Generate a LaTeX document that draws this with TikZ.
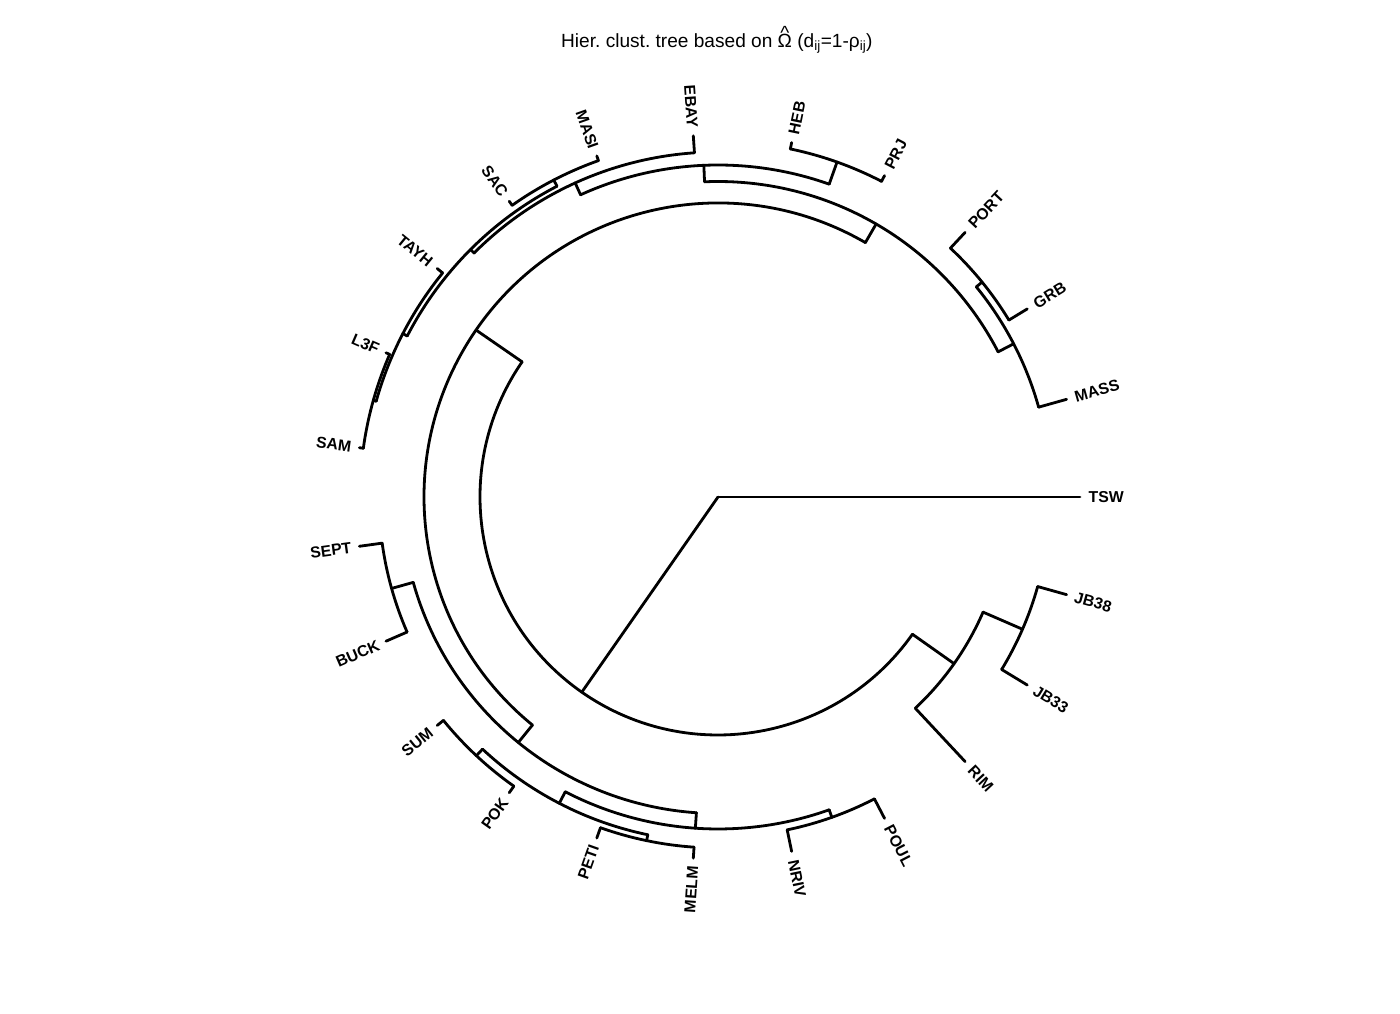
\documentclass[tikz,border=0pt]{standalone}
\usepackage{fontspec}
\setmainfont{Liberation Sans}
\frenchspacing
\begin{document}
\begin{tikzpicture}[x=1pt,y=1pt,
  br/.style={line width=2.8pt, line cap=round, line join=round},
  lab/.style={font=\fontsize{15.8}{18}\selectfont\bfseries, inner sep=0pt, text height=11.3pt, text depth=0pt}]
\useasboundingbox (0,0) rectangle (1400,1014);
\coordinate (C) at (718,517);
% title
\node[anchor=base west, inner sep=0pt, font=\fontsize{19.1}{22}\selectfont] (title) at (561,966.7)
  {Hier. clust. tree based on \ooalign{Ω\cr\hidewidth\raisebox{0.42em}{\textasciicircum}\hidewidth\cr} (d\textsubscript{ij}=1-ρ\textsubscript{ij})};
% internal nodes: name/angle/parent radius/radius/arc start/arc end
\foreach \nm/\ang/\pr/\rr/\aa/\ab in {
  N1/235.089/0/238/145.394/324.783,
  RJ/324.783/238/289/313.043/336.522,
  JB/336.522/289/332/328.696/344.348,
  N2/145.394/238/294/59.918/230.870,
  A/59.918/294/315.5/27.391/92.446,
  PGM/27.391/315.5/333/15.652/39.130,
  PG/39.130/333/340.5/31.304/46.957,
  E/92.446/315.5/332/70.435/114.457,
  HP/70.435/332/355.5/62.609/78.261,
  M/114.457/332/345/93.913/135.0,
  T/135.0/345/350/117.391/152.609,
  MS/117.391/350/357/109.565/125.217,
  LT/152.609/350/355/140.870/164.348,
  LS/164.348/355/358/156.522/172.174,
  B/230.870/294/316.5/195.652/266.087,
  SB/195.652/316.5/339/187.826/203.478,
  Q/266.087/316.5/332/242.609/289.565,
  K/242.609/332/345/226.957/258.261,
  SP/226.957/345/354/219.130/234.783,
  PM/258.261/345/351/250.435/266.087,
  NP/289.565/332/340/281.739/297.391}{
  \draw[br] ([shift={(\ang:\pr)}]C) -- ([shift={(\ang:\rr)}]C) coordinate (n\nm);
  \draw[br] ([shift={(\aa:\rr)}]C) arc[start angle=\aa, end angle=\ab, radius=\rr];
}
% tips: index/name/parent radius
\foreach \i/\nm/\pr in {
  0/TSW/0, 1/MASS/333, 2/GRB/340.5, 3/PORT/340.5, 4/PRJ/355.5, 5/HEB/355.5,
  6/EBAY/345, 7/MASI/357, 8/SAC/357, 9/TAYH/355, 10/L3F/358, 11/SAM/358,
  12/SEPT/339, 13/BUCK/339, 14/SUM/354, 15/POK/354, 16/PETI/351, 17/MELM/351,
  18/NRIV/340, 19/POUL/340, 20/RIM/289, 21/JB33/332, 22/JB38/332}{
  \pgfmathsetmacro\ang{\i*360/23}
  \draw[br] ([shift={(\ang:\pr)}]C) -- ([shift={(\ang:362)}]C) coordinate (t\nm);
  \pgfmathparse{(\ang>90 && \ang<270) ? 1 : 0}
  \ifnum\pgfmathresult=1
    \pgfmathsetmacro\rot{\ang-180}
    \node[lab, anchor=east, rotate=\rot] (l\nm) at ([shift={(\ang:370)}]C) {\nm};
  \else
    \node[lab, anchor=west, rotate=\ang] (l\nm) at ([shift={(\ang:370.5)}]C) {\nm};
  \fi
}
\end{tikzpicture}
\end{document}
